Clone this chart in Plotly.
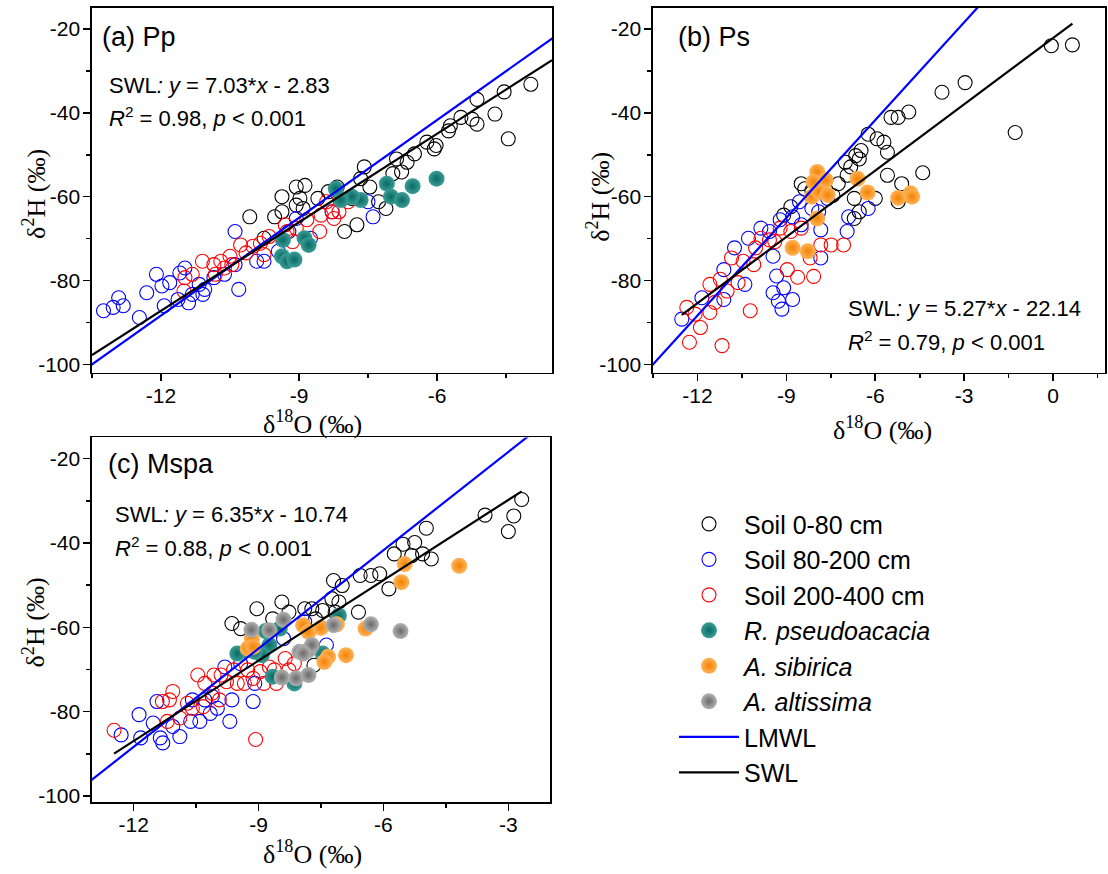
import plotly.graph_objects as go

W, H = 1108, 874

# ---------------- data: panel (a) Pp ----------------
a_soil1_x = [-3.96, -4.54, -4.74, -4.45, -5.13, -5.24, -5.13, -5.48, -5.71, -5.75, -6.02, -6.06, -6.22, -6.49,
             -6.65, -6.88, -6.96, -7.11, -7.46, -7.58, -7.66, -7.74, -8.01, -8.17, -8.36, -8.59, -8.87, -9.06,
             -8.98, -8.91, -9.06, -9.37, -9.53, -9.37, -10.07, -9.76, -7.85, -7.27, -6.77]
a_soil1_y = [-33.2, -35.0, -40.3, -46.2, -36.8, -41.5, -42.7, -41.1, -43.1, -44.3, -47.8, -48.6, -47.0, -49.8,
             -51.8, -51.0, -54.5, -62.8, -57.7, -52.9, -55.7, -66.7, -68.3, -57.7, -58.8, -60.4, -57.3, -57.7,
             -60.4, -62.8, -62.0, -60.0, -64.8, -63.6, -64.8, -69.9, -60.4, -61.2, -54.1]
a_soil2_x = [-13.25, -12.92, -13.04, -12.82, -12.47, -12.31, -12.10, -11.98, -11.81, -11.93, -11.63, -11.59,
             -11.48, -11.40, -11.17, -11.09, -11.05, -11.32, -10.85, -10.62, -10.39, -10.31, -10.39, -9.92,
             -9.76, -9.45, -9.06, -8.75, -8.28, -7.39, -7.50, -9.22]
a_soil2_y = [-87.2, -84.1, -86.4, -86.0, -88.8, -82.9, -78.5, -81.3, -80.5, -86.0, -84.5, -78.2,
             -77.0, -85.3, -80.9, -83.3, -82.1, -83.3, -79.3, -78.5, -68.3, -82.1, -76.2, -75.4,
             -75.4, -73.0, -65.2, -69.9, -63.6, -64.8, -61.2, -68.3]
a_soil3_x = [-11.50, -11.48, -11.32, -11.10, -10.85, -10.82, -10.70, -10.46, -10.50, -10.27, -10.15, -10.00,
             -9.84, -9.76, -9.65, -9.30, -9.26, -9.14, -9.06, -8.83, -8.55, -8.52, -8.40, -8.28, -8.13,
             -7.93, -8.24, -10.62]
a_soil3_y = [-82.5, -79.3, -78.5, -75.4, -76.2, -78.5, -75.4, -76.2, -74.2, -71.5, -73.4, -71.8,
             -71.1, -73.8, -69.5, -66.7, -68.3, -70.7, -67.5, -65.5, -68.3, -64.4, -61.2, -63.6, -63.6,
             -61.2, -65.2, -77.0]
a_rp_x = [-6.01, -6.53, -7.09, -7.00, -6.76, -7.66, -7.85, -8.09, -8.20, -9.35, -8.88, -8.79, -9.37, -9.26, -9.10]
a_rp_y = [-55.7, -57.5, -56.9, -60.0, -60.8, -60.8, -60.0, -60.8, -58.1, -70.3, -69.9, -71.5, -74.2, -75.4, -75.0]

# ---------------- data: panel (b) Ps ----------------
b_soil1_x = [0.65, -0.06, -2.97, -3.75, -1.28, -4.40, -4.87, -5.23, -5.47, -5.59, -5.71, -5.94, -5.59, -5.11,
             -5.23, -6.24, -6.48, -6.66, -6.54, -6.83, -7.01, -6.95, -6.71, -6.00, -6.54, -6.71, -7.25,
             -7.67, -8.50, -8.38, -8.14, -7.43, -8.85, -9.09]
b_soil1_y = [-23.8, -24.0, -32.8, -35.1, -44.7, -54.3, -39.8, -41.1, -41.1, -49.4, -47.0, -46.2, -54.9, -56.9,
             -61.2, -45.1, -49.0, -50.2, -51.0, -52.9, -51.8, -54.9, -60.4, -60.4, -63.6, -65.2, -56.9,
             -56.1, -56.9, -58.1, -58.5, -59.7, -62.4, -64.4]
b_soil2_x = [-12.53, -11.85, -11.11, -11.11, -10.75, -10.40, -10.28, -9.86, -9.57, -9.45, -9.33, -9.45, -9.27,
             -9.15, -9.09, -8.79, -9.21, -8.79, -8.56, -8.50, -8.14, -7.84, -7.84, -7.61, -6.95, -6.90,
             -6.24, -7.91]
b_soil2_y = [-89.2, -84.1, -84.5, -77.4, -72.2, -80.9, -69.9, -67.5, -68.3, -74.2, -78.9, -82.9, -84.9,
             -86.8, -81.7, -84.5, -65.5, -64.8, -61.2, -66.7, -62.8, -67.9, -74.6, -60.4, -68.3, -64.8,
             -62.8, -63.6]
b_soil3_x = [-12.36, -12.27, -11.90, -12.08, -11.58, -11.58, -11.41, -11.23, -11.17, -11.00, -10.85, -10.63,
             -10.46, -10.22, -10.10, -10.04, -9.86, -9.57, -9.39, -9.21, -8.97, -8.85, -8.62, -8.50, -8.08,
             -7.84, -7.49, -7.07, -8.20]
b_soil3_y = [-86.4, -94.7, -91.2, -88.0, -80.9, -87.6, -85.2, -79.7, -95.5, -82.5, -74.6, -80.5,
             -75.4, -87.2, -76.2, -72.2, -69.9, -70.3, -70.7, -67.5, -77.4, -68.3, -79.2, -67.5, -79.0,
             -71.5, -71.5, -71.5, -74.6]
b_as_x = [-7.96, -8.08, -7.67, -8.14, -7.90, -7.61, -7.96, -6.60, -6.26, -5.23, -4.81, -4.76, -8.79, -8.28]
b_as_y = [-54.1, -56.5, -56.1, -60.0, -58.8, -59.6, -65.2, -55.7, -59.0, -60.3, -59.2, -60.0, -72.2, -73.0]

# ---------------- data: panel (c) Mspa ----------------
c_soil1_x = [-2.68, -2.87, -3.00, -3.56, -4.97, -5.25, -5.53, -5.74, -5.32, -5.06, -4.85, -5.87, -6.09, -6.30,
             -6.56, -6.60, -6.99, -7.20, -7.24, -7.07, -7.16, -7.46, -7.72, -7.89, -7.63, -8.27, -8.44,
             -8.66, -9.04, -9.64, -9.43, -7.80, -7.67]
c_soil1_y = [-29.7, -33.6, -37.3, -33.4, -36.5, -39.9, -40.3, -42.6, -43.0, -42.6, -43.8, -50.9, -47.3, -47.7,
             -47.7, -56.4, -50.1, -48.9, -53.2, -54.0, -56.4, -56.0, -55.6, -55.6, -58.0, -56.4, -54.0,
             -58.0, -55.6, -59.1, -60.3, -65.4, -69.0]
c_soil2_x = [-12.30, -11.87, -11.83, -11.53, -11.44, -11.36, -11.30, -11.06, -10.89, -10.41, -10.16, -10.11,
             -9.99, -9.81, -9.69, -9.64, -9.13, -9.09, -9.43, -8.40, -7.89, -7.37, -10.59, -10.29, -10.63]
c_soil2_y = [-85.5, -80.7, -86.2, -82.7, -77.6, -86.2, -87.4, -83.5, -85.9, -82.3, -80.4, -76.4,
             -79.2, -69.4, -82.3, -77.2, -77.6, -73.3, -68.6, -62.7, -58.7, -64.2, -77.2, -77.2, -82.3]
c_soil3_x = [-12.47, -11.31, -11.14, -11.06, -11.19, -10.89, -10.71, -10.59, -10.33, -10.46, -10.29, -10.11,
             -10.07, -9.94, -9.90, -9.77, -9.60, -9.51, -9.34, -9.26, -9.13, -8.96, -8.87, -8.74, -8.62,
             -8.36, -8.27, -8.57, -9.07, -8.92, -8.14]
c_soil3_y = [-84.4, -77.6, -77.2, -75.2, -82.3, -81.5, -78.0, -79.2, -78.8, -71.3, -73.3, -75.6,
             -71.3, -77.2, -71.3, -72.9, -70.1, -73.3, -73.3, -70.1, -72.1, -70.5, -73.3, -69.4, -70.1,
             -67.4, -70.1, -73.3, -86.6, -66.2, -68.6]
c_rp_x = [-9.51, -9.26, -8.83, -8.74, -8.92, -8.49, -8.66, -8.14, -7.07, -7.46, -9.09]
c_rp_y = [-66.2, -65.4, -60.9, -64.2, -66.6, -60.3, -71.7, -73.3, -57.2, -66.2, -65.8]
c_as_x = [-5.49, -4.18, -5.57, -7.93, -7.80, -7.50, -7.12, -6.43, -7.33, -6.90, -7.42, -9.16, -9.26, -9.13]
c_as_y = [-45.0, -45.4, -49.3, -59.5, -61.1, -60.1, -59.3, -60.3, -67.0, -66.6, -68.2, -62.7, -65.0, -64.6]
c_aa_x = [-9.17, -8.74, -8.40, -8.02, -7.80, -7.72, -7.20, -6.30, -5.59, -8.44, -8.10, -7.80, -7.93]
c_aa_y = [-60.6, -60.7, -58.2, -65.8, -65.4, -64.2, -59.5, -59.3, -60.9, -71.9, -72.1, -71.3, -66.2]

# ---------------- lines ----------------
lmwl_slope, lmwl_icpt = 7.77, 4.9
swl_slopes = [7.03, 5.27, 6.35]
swl_icpts = [-2.83, -22.14, -10.74]
swl_xext = [[-13.5, -3.5], [-12.53, 0.65], [-12.47, -2.68]]
x_ranges = [[-13.5, -3.5], [-13.5, 1.75], [-13.0, -2.0]]
y_ranges = [[-102, -15], [-102, -15], [-101.5, -15]]
panel_labels = ["(a) Pp", "(b) Ps", "(c) Mspa"]
r2_vals = ["0.98", "0.79", "0.88"]

x_major = [[-12, -9, -6], [-12, -9, -6, -3, 0], [-12, -9, -6, -3]]
x_minor = [[-13.5, -10.5, -7.5, -4.5], [-13.5, -10.5, -7.5, -4.5, -1.5, 1.5], [-10.5, -7.5, -4.5]]
y_major = [-100, -80, -60, -40, -20]
y_minor = [-90, -70, -50, -30]

# ---------------- styles ----------------
SANS = "Liberation Sans, Arial, sans-serif"
SERIF = "Liberation Serif, Times New Roman, serif"
C_BLACK, C_BLUE, C_RED = "#000000", "#0000ff", "#ff0000"
TEAL = ("#3c9d96", "#086a64")
ORANGE = ("#ffb35a", "#f28200")
GRAY = ("#b2b2b2", "#6a6a6a")

# pixel geometry of panels (x0, x1, y0_top, y1_bottom)
panels_px = [(92, 552, 8, 375), (653, 1105, 8, 375), (92, 550, 440, 807)]


def px(x):
    return x / W


def py(y):
    return 1 - y / H


fig = go.Figure()

names = ["Soil 0-80 cm", "Soil 80-200 cm", "Soil 200-400 cm",
         "<i>R. pseudoacacia</i>", "<i>A. sibirica</i>", "<i>A. altissima</i>", "LMWL", "SWL"]
shown = set()


def add_open(xs, ys, color, k, name_idx):
    ax = "" if k == 0 else str(k + 1)
    nm = names[name_idx]
    fig.add_trace(go.Scatter(
        x=xs, y=ys, mode="markers", name=nm, legendrank=name_idx + 1,
        showlegend=nm not in shown, legendgroup=nm,
        xaxis="x" + ax, yaxis="y" + ax,
        marker=dict(symbol="circle-open", size=14, color=color, line=dict(width=1.1, color=color))))
    shown.add(nm)


def add_filled(xs, ys, colors, k, name_idx):
    ax = "" if k == 0 else str(k + 1)
    nm = names[name_idx]
    fig.add_trace(go.Scatter(
        x=xs, y=ys, mode="markers", name=nm, legendrank=name_idx + 1,
        showlegend=nm not in shown, legendgroup=nm,
        xaxis="x" + ax, yaxis="y" + ax,
        marker=dict(symbol="circle", size=16, color=colors[0],
                    gradient=dict(type="radial", color=colors[1]),
                    line=dict(width=0))))
    shown.add(nm)


soil_sets = [
    (a_soil1_x, a_soil1_y, a_soil2_x, a_soil2_y, a_soil3_x, a_soil3_y),
    (b_soil1_x, b_soil1_y, b_soil2_x, b_soil2_y, b_soil3_x, b_soil3_y),
    (c_soil1_x, c_soil1_y, c_soil2_x, c_soil2_y, c_soil3_x, c_soil3_y),
]
for k, s in enumerate(soil_sets):
    add_open(s[0], s[1], C_BLACK, k, 0)
    add_open(s[2], s[3], C_BLUE, k, 1)
    add_open(s[4], s[5], C_RED, k, 2)
    if k == 0:
        add_filled(a_rp_x, a_rp_y, TEAL, 0, 3)
    elif k == 1:
        add_filled(b_as_x, b_as_y, ORANGE, 1, 4)
    else:
        add_filled(c_rp_x, c_rp_y, TEAL, 2, 3)
        add_filled(c_as_x, c_as_y, ORANGE, 2, 4)
        add_filled(c_aa_x, c_aa_y, GRAY, 2, 5)

for k in range(3):
    ax = "" if k == 0 else str(k + 1)
    xr = x_ranges[k]
    lx = [xr[0] - 1, xr[1] + 1]
    fig.add_trace(go.Scatter(
        x=lx, y=[lmwl_slope * v + lmwl_icpt for v in lx], mode="lines", name="LMWL",
        legendrank=7, showlegend=(k == 0), legendgroup="LMWL",
        xaxis="x" + ax, yaxis="y" + ax, line=dict(color="#0000ff", width=2.2)))
    sx = swl_xext[k]
    fig.add_trace(go.Scatter(
        x=sx, y=[swl_slopes[k] * v + swl_icpts[k] for v in sx], mode="lines", name="SWL",
        legendrank=8, showlegend=(k == 0), legendgroup="SWL",
        xaxis="x" + ax, yaxis="y" + ax, line=dict(color="#000000", width=2.2)))

layout = dict(
    width=W, height=H, margin=dict(l=0, r=0, t=0, b=0),
    paper_bgcolor="white", plot_bgcolor="white",
    font=dict(family=SANS, size=20, color="black"),
    hovermode=False,
    legend=dict(x=px(674), y=py(504), xanchor="left", yanchor="top",
                font=dict(family=SANS, size=25, color="black"),
                bgcolor="rgba(0,0,0,0)", itemwidth=60, tracegroupgap=0),
)

annots = []
for k in range(3):
    x0, x1, y0, y1 = panels_px[k]
    ax = "" if k == 0 else str(k + 1)
    axis_common = dict(showline=True, linecolor="black", linewidth=1.6, mirror=True,
                       ticks="outside", ticklen=7, tickwidth=1.6, tickcolor="black",
                       showgrid=False, zeroline=False,
                       tickfont=dict(family=SANS, size=21, color="black"))
    layout["xaxis" + ax] = dict(
        domain=[px(x0), px(x1)], range=x_ranges[k], anchor="y" + ax,
        tickmode="array", tickvals=x_major[k], ticktext=[str(v) for v in x_major[k]],
        ticklabelstandoff=-4,
        minor=dict(tickmode="array", tickvals=x_minor[k], ticks="outside", ticklen=4,
                   tickwidth=1.6, tickcolor="black"),
        **axis_common)
    layout["yaxis" + ax] = dict(
        domain=[py(y1), py(y0)], range=y_ranges[k], anchor="x" + ax,
        tickmode="array", tickvals=y_major, ticktext=[str(v) for v in y_major],
        ticklabelstandoff=-1,
        minor=dict(tickmode="array", tickvals=y_minor, ticks="outside", ticklen=4,
                   tickwidth=1.6, tickcolor="black"),
        **axis_common)

# text positions (pixels)
label_pos = [(100, 37), (676, 37), (106, 467)]
eq_pos = [(107, 86, 118), (846, 310, 343), (113, 517, 550)]
xt_pos = [(312, 425), (882, 431), (312, 857)]
yt_pos = [(35, 195), (599, 198), (34, 626)]

for k in range(3):
    lx, ly = label_pos[k]
    annots.append(dict(x=px(lx), y=py(ly), xref="paper", yref="paper", xanchor="left", yanchor="middle",
                       text=panel_labels[k], showarrow=False, font=dict(family=SANS, size=27, color="black")))
    ex, ey1, ey2 = eq_pos[k]
    sgn = "-" if swl_icpts[k] < 0 else "+"
    eq = "SWL<i>: y</i> = %.2f*<i>x</i> %s %.2f" % (swl_slopes[k], sgn, abs(swl_icpts[k]))
    annots.append(dict(x=px(ex), y=py(ey1), xref="paper", yref="paper", xanchor="left", yanchor="middle",
                       text=eq, showarrow=False, font=dict(family=SANS, size=22, color="black")))
    r2 = "<i>R</i><sup>2</sup> = %s, <i>p</i> &lt; 0.001" % r2_vals[k]
    annots.append(dict(x=px(ex), y=py(ey2), xref="paper", yref="paper", xanchor="left", yanchor="middle",
                       text=r2, showarrow=False, font=dict(family=SANS, size=22, color="black")))
    tx, ty = xt_pos[k]
    annots.append(dict(x=px(tx), y=py(ty), xref="paper", yref="paper", xanchor="center", yanchor="middle",
                       text="δ<sup>18</sup>O (‰)", showarrow=False, font=dict(family=SERIF, size=26, color="black")))
    yx, yy = yt_pos[k]
    annots.append(dict(x=px(yx), y=py(yy), xref="paper", yref="paper", xanchor="center", yanchor="middle",
                       text="δ<sup>2</sup>H (‰)", textangle=-90, showarrow=False,
                       font=dict(family=SERIF, size=26, color="black")))

layout["annotations"] = annots
fig.update_layout(**layout)
fig.write_html("out.html", config={"displayModeBar": False, "staticPlot": True},
               post_script="document.body.style.margin='0px';")
